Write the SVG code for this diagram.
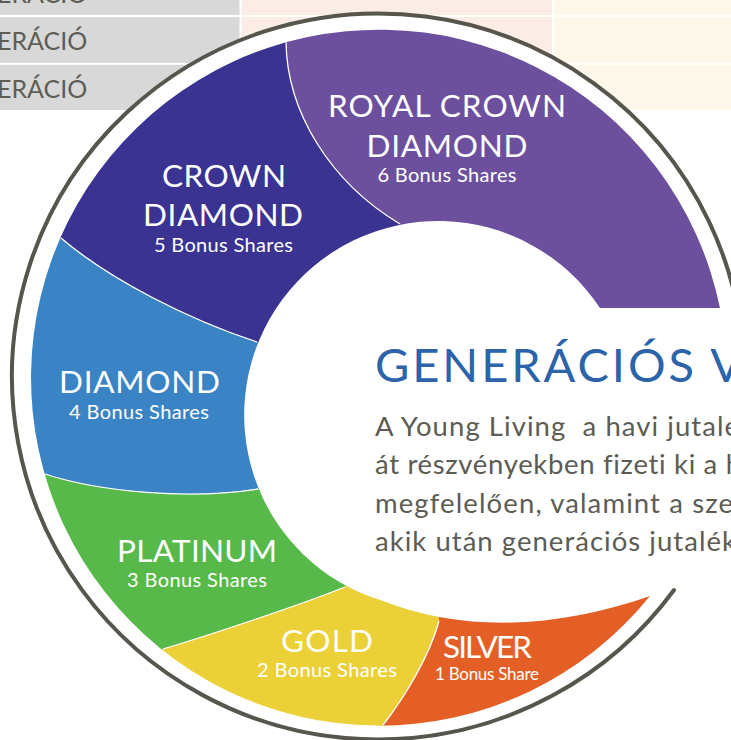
<svg xmlns="http://www.w3.org/2000/svg" width="731" height="740" viewBox="0 0 731 740">
<defs>
<clipPath id="band"><path d="M720,308 A348,348 0 1 0 650,596 C564.5,625.7 470,635 383,601 A194,194 0 1 1 600,308 Z"/></clipPath>
<style>
text{font-variant-ligatures:none}
.tbl{font-family:Lato,'Liberation Sans',sans-serif;font-size:25px;fill:#5d5d55}
.lbl{font-family:Lato,'Liberation Sans',sans-serif;font-size:31.5px;fill:#ffffff;text-anchor:middle}
.sub{font-family:Lato,'Liberation Sans',sans-serif;font-size:20px;fill:#ffffff;text-anchor:middle}
.sep{fill:none;stroke:#ffffff;stroke-width:1.3}
.title{font-family:Lato,'Liberation Sans',sans-serif;font-size:47px;fill:#2c63a9}
.body{font-family:Lato,'Liberation Sans',sans-serif;font-size:27.5px;fill:#5c5c54}
.wline{fill:#ffffff}
</style>
</defs>
<rect width="731" height="740" fill="#ffffff"/>
<g id="table">
<rect x="0" y="0" width="240" height="110" fill="#d9d8d8"/>
<rect x="240" y="0" width="313" height="110" fill="#fbece5"/>
<rect x="553" y="0" width="178" height="110" fill="#fef8eb"/>
<rect class="wline" x="0" y="15" width="731" height="2"/>
<rect class="wline" x="0" y="63" width="731" height="1.8"/>
<rect class="wline" x="239.5" y="0" width="2" height="110"/>
<rect class="wline" x="552" y="0" width="2" height="110"/>
<text class="tbl" x="-3" y="3">ERÁCIÓ</text>
<text class="tbl" x="-3" y="50">ERÁCIÓ</text>
<text class="tbl" x="-3" y="98">ERÁCIÓ</text>
</g>
<g id="frame">
<ellipse cx="378" cy="377" rx="366" ry="363" fill="#ffffff"/>
<path d="M674,590 A366,363 0 1 1 744,377" fill="none" stroke="#56564c" stroke-width="4" stroke-linecap="round"/>
</g>
<g id="segments" clip-path="url(#band)">
<path id="seg-royal" fill="#6c4f9d" d="M438,415 L400,224 C330,182 287,112 286,42 L284,0 L760,0 L760,440 Z"/>
<path id="seg-crown" fill="#3a3391" d="M438,415 L400,224 C330,182 287,112 286,42 L284,0 L0,0 L24,222 L61,238 C110,280 190,320 257,342 Z"/>
<path id="seg-diamond" fill="#3a83c4" d="M438,415 L257,342 C190,320 110,280 61,238 L24,222 L-10,222 L-10,485 L7,485 L45,474 C100,492 190,500 258,489 Z"/>
<path id="seg-platinum" fill="#57b94a" d="M438,415 L258,489 C190,500 100,492 45,474 L7,485 L-10,485 L-10,760 L120,760 L138,680 L163,649 C210,635 300,605 345,587 Z"/>
<path id="seg-gold" fill="#ebd037" d="M438,415 L345,587 C300,605 210,635 163,649 L138,680 L120,760 L383,765 L383,725 C405,697 430,655 439,621 Z"/>
<path id="seg-silver" fill="#e45f26" d="M438,415 L439,621 C430,655 405,697 383,725 L383,765 L760,765 L760,440 Z"/>
</g>
<g id="connectors" clip-path="url(#band)">
<path class="sep" d="M400,224 C330,182 287,112 286,42"/>
<path class="sep" d="M257,342 C190,320 110,280 61,238"/>
<path class="sep" d="M258,489 C190,500 100,492 45,474"/>
<path class="sep" d="M345,587 C300,605 210,635 163,649"/>
<path class="sep" d="M439,621 C430,655 405,697 383,725"/>
</g>
<g id="node-royal-crown-diamond">
<text class="lbl" x="447" y="117" textLength="238" lengthAdjust="spacing">ROYAL CROWN</text>
<text class="lbl" x="447" y="157" textLength="161" lengthAdjust="spacing">DIAMOND</text>
<text class="sub" x="447" y="182" textLength="139" lengthAdjust="spacing">6 Bonus Shares</text>
</g>
<g id="node-crown-diamond">
<text class="lbl" x="224" y="187" textLength="124" lengthAdjust="spacing">CROWN</text>
<text class="lbl" x="223" y="226" textLength="160" lengthAdjust="spacing">DIAMOND</text>
<text class="sub" x="223.5" y="252" textLength="139" lengthAdjust="spacing">5 Bonus Shares</text>
</g>
<g id="node-diamond">
<text class="lbl" x="139.5" y="393" textLength="161" lengthAdjust="spacing">DIAMOND</text>
<text class="sub" x="139" y="419" textLength="140" lengthAdjust="spacing">4 Bonus Shares</text>
</g>
<g id="node-platinum">
<text class="lbl" x="197" y="562" textLength="160" lengthAdjust="spacing">PLATINUM</text>
<text class="sub" x="197" y="587" textLength="140" lengthAdjust="spacing">3 Bonus Shares</text>
</g>
<g id="node-gold">
<text class="lbl" x="327" y="652" textLength="92" lengthAdjust="spacing">GOLD</text>
<text class="sub" x="327" y="677" textLength="140" lengthAdjust="spacing">2 Bonus Shares</text>
</g>
<g id="node-silver">
<text class="lbl" x="487.5" y="658" textLength="89" lengthAdjust="spacing">SILVER</text>
<text class="sub" x="487" y="680" style="font-size:17px" textLength="104" lengthAdjust="spacing">1 Bonus Share</text>
</g>
<g id="description">
<text class="title" x="375" y="382" textLength="367" lengthAdjust="spacing">GENERÁCIÓS V</text>
<text class="body" x="375" y="436" xml:space="preserve" textLength="364" lengthAdjust="spacing">A Young Living  a havi jutalé</text>
<text class="body" x="375" y="474" textLength="366" lengthAdjust="spacing">át részvényekben fizeti ki a h</text>
<text class="body" x="375" y="513" textLength="358" lengthAdjust="spacing">megfelelően, valamint a sze</text>
<text class="body" x="375" y="551" textLength="361" lengthAdjust="spacing">akik után generációs jutalék</text>
</g>
</svg>
